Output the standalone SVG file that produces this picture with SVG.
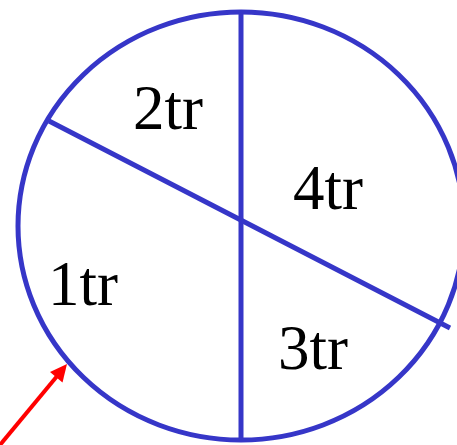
<svg xmlns="http://www.w3.org/2000/svg" width="457" height="445" viewBox="0 0 457 445">
<style>
.ln{stroke:#3636C8;stroke-width:5;fill:none}
.lb{font-family:"Liberation Serif","Times New Roman",serif;font-size:63px;fill:#000}
</style>
<rect width="457" height="445" fill="#fff"/>
<g id="wheel">
<ellipse class="ln" cx="241" cy="226" rx="223" ry="214"/>
</g>
<g id="connectors">
<line class="ln" x1="241" y1="10" x2="241" y2="441"/>
<line class="ln" x1="49" y1="121" x2="450" y2="328"/>
<path d="M0,445 L58,375" stroke="#FF0000" stroke-width="4" fill="none"/>
<path d="M67,364 L62.5,382.5 L50,372 z" fill="#FF0000"/>
</g>
<g id="label-2tr"><text class="lb" x="133" y="129">2tr</text></g>
<g id="label-4tr"><text class="lb" x="293" y="209">4tr</text></g>
<g id="label-1tr"><text class="lb" x="48" y="305">1tr</text></g>
<g id="label-3tr"><text class="lb" x="278" y="369">3tr</text></g>
</svg>
